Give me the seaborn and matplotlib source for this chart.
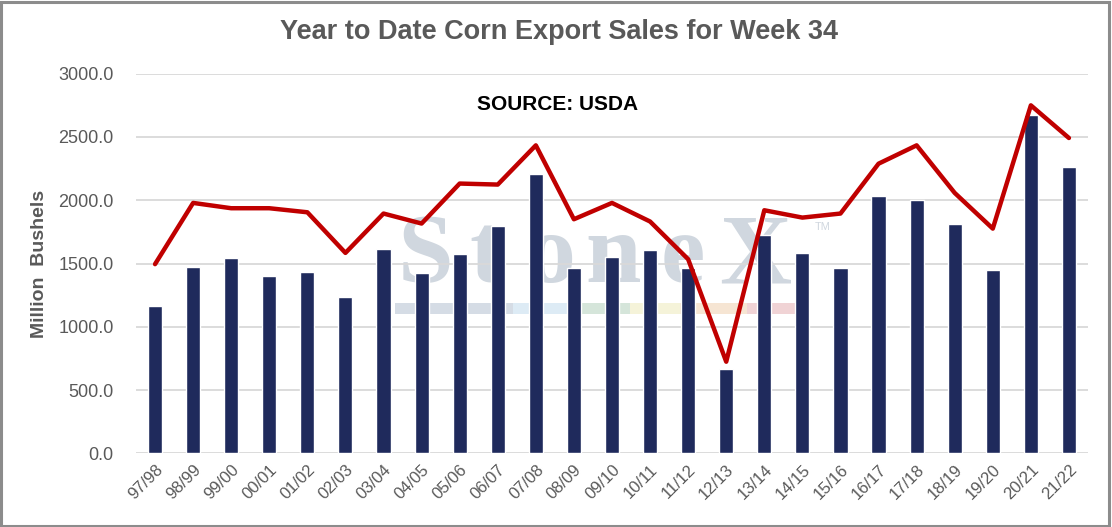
import numpy as np
import pandas as pd
import matplotlib
matplotlib.use("Agg")
import matplotlib.pyplot as plt
import seaborn as sns
from matplotlib.patches import Rectangle

# Datos (millones de bushels)
temporadas = ['97/98', '98/99', '99/00', '00/01', '01/02', '02/03', '03/04', '04/05',
              '05/06', '06/07', '07/08', '08/09', '09/10', '10/11', '11/12', '12/13',
              '13/14', '14/15', '15/16', '16/17', '17/18', '18/19', '19/20', '20/21', '21/22']
ventas_semana34 = [1168, 1476, 1542, 1405, 1432, 1232, 1618, 1424, 1574, 1795, 2211,
                   1468, 1555, 1603, 1468, 663, 1729, 1587, 1461, 2037, 2005, 1816,
                   1445, 2671, 2266]
total_linea = [1495, 1979, 1937, 1937, 1905, 1584, 1895, 1816, 2132, 2124, 2434,
               1850, 1979, 1832, 1534, 724, 1921, 1863, 1895, 2289, 2434, 2058,
               1776, 2750, 2492]
marcas_y = [0, 500, 1000, 1500, 2000, 2500, 3000]

sns.set_style("white")
plt.rcParams['font.family'] = ['Liberation Sans', 'DejaVu Sans']

gris = '#595959'
n = len(temporadas)

fig = plt.figure(figsize=(11.12, 5.27), dpi=100)
ax = fig.add_axes([0.1223, 0.1398, 0.8561, 0.7203])

# marca de agua StoneX (letra por letra, en fraccion del eje)
letras = ['S', 't', 'o', 'n', 'e', 'X']
pos_letras = [0.304, 0.368, 0.435, 0.501, 0.574, 0.650]
for l, xl in zip(letras, pos_letras):
    ax.text(xl, 0.451, l, transform=ax.transAxes, fontsize=72, family='Liberation Serif',
            fontweight='bold', color='#D0D7DF', ha='center', va='baseline', zorder=0)
ax.text(0.713, 0.588, 'TM', transform=ax.transAxes, fontsize=8, color='#D0D7DF', zorder=0)
franjas = ['#D5DCE5', '#DDEBF5', '#D5E5DA', '#F5F3D9', '#F6E5D3', '#F0D3D5']
cortes = [0.272, 0.396, 0.466, 0.519, 0.571, 0.642, 0.692]
for i, c in enumerate(franjas):
    ax.add_patch(Rectangle((cortes[i], 0.367), cortes[i + 1] - cortes[i], 0.029,
                           transform=ax.transAxes, color=c, zorder=0, lw=0))

df = pd.DataFrame({'temporada': temporadas, 'ventas': ventas_semana34, 'linea': total_linea})
sns.barplot(data=df, x='temporada', y='ventas', color='#1F2A5C', width=0.37,
            saturation=1, ax=ax, zorder=2)
sns.lineplot(x=np.arange(n), y=df['linea'], color='#C00000', linewidth=3.2, ax=ax, zorder=3)

ax.set_ylim(0, 3000)
ax.set_xlim(-0.5, n - 0.5)
ax.set_yticks(marcas_y)
ax.set_yticklabels([f'{v:.1f}' for v in marcas_y], fontsize=13, color=gris)
ax.set_xticks(np.arange(n))
ax.set_xticklabels(temporadas, rotation=45, ha='right', rotation_mode='anchor',
                   fontsize=12, color=gris)
ax.tick_params(axis='y', length=0, pad=16)
ax.tick_params(axis='x', length=0, pad=6)
ax.yaxis.grid(True, color='#D9D9D9', linewidth=1.3)
ax.set_axisbelow(True)
for s in ax.spines.values():
    s.set_visible(False)
ax.set_xlabel('')
ax.set_ylabel('')
fig.text(40 / 1112, 1 - 264 / 527, 'Million  Bushels', rotation=90, ha='center', va='center',
         fontsize=14, fontweight='bold', color=gris)

fig.text(559 / 1112, 1 - 32 / 527, 'Year to Date Corn Export Sales for Week 34', ha='center',
         va='center', fontsize=19.5, fontweight='bold', color=gris)
fig.text(558 / 1112, 1 - 105 / 527, 'SOURCE: USDA', ha='center', va='center', fontsize=15,
         fontweight='bold', color='black')

fig.patches.append(Rectangle((0.001, 0.002), 0.996, 0.995, transform=fig.transFigure,
                             fill=False, edgecolor='#8C8C8C', linewidth=2.2))

fig.savefig('out.png', dpi=100)
plt.close(fig)
